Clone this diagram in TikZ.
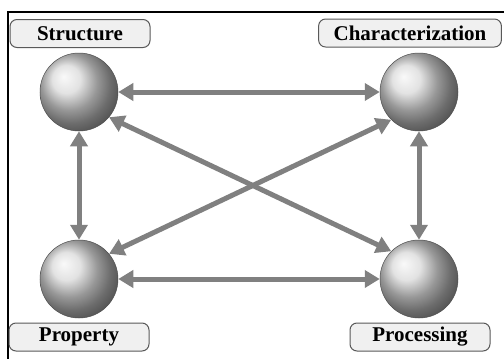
\documentclass[tikz,border=0pt]{standalone}
\usepackage{fontspec}
\setmainfont{Liberation Serif}
\usepackage{tikz}
\usetikzlibrary{arrows.meta}
\usetikzlibrary{shapes.geometric}
\definecolor{linkgray}{RGB}{128, 128, 128}
\definecolor{tagfill}{RGB}{240, 240, 240}
\tikzset{>={Triangle[length=15pt,width=17pt]}}
\tikzset{
    ball/.style={circle, minimum size=78pt, inner sep=0pt, shading=ball, ball color=gray!30!white, draw=gray!60!black, line width=0.5pt},
    tag/.style={draw=gray!70!black, fill=tagfill, rounded corners=7pt, line width=1pt, minimum height=28pt, minimum width=140pt, inner xsep=15pt, font=\fontsize{21}{24}\selectfont\bfseries},
    link/.style={<->, draw=linkgray, line width=5pt}
}

\begin{document}
\begin{tikzpicture}[x=1pt, y=-1pt]

    \useasboundingbox (0,0) rectangle (504,359);
    \fill[white] (0,0) rectangle (504,359);
    \draw[line width=2pt] (8,359) -- (8,12) -- (504,12); % frame, cut at right and bottom

    % the four balls
    \node[ball] (str) at (79, 92) {};
    \node[ball] (cha) at (419, 92) {};
    \node[ball] (prop) at (79, 279) {};
    \node[ball] (proc) at (419, 279) {};

    % labels
    \node[tag] (strlab) at (80, 33.5) {Structure};
    \node[tag] (chalab) at (410, 33) {Characterization};
    \node[tag] (proplab) at (79, 337) {Property};
    \node[tag] (proclab) at (420, 337) {Processing};

    % links
    \draw[link] (str) -- (cha);
    \draw[link] (prop) -- (proc);
    \draw[link] (str) -- (prop);
    \draw[link] (cha) -- (proc);
    \draw[link] (str.-40) -- (proc.135);
    \draw[link] (prop.40) -- (cha.-135);

\end{tikzpicture}
\end{document}
